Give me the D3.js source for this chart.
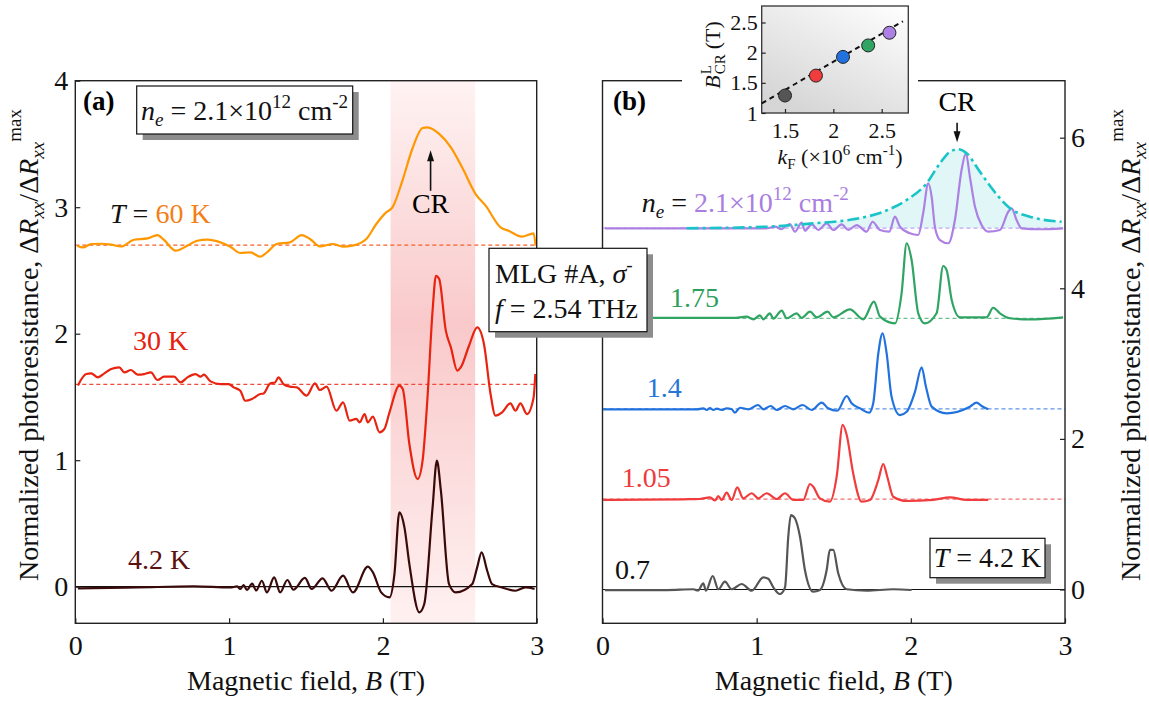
<!DOCTYPE html>
<html>
<head>
<meta charset="utf-8">
<script src="https://cdn.jsdelivr.net/npm/d3@7"></script>
<style>
  body { margin: 0; background: #fff; }
  svg { display: block; font-family: "Liberation Serif", "Times New Roman", serif; }
</style>
</head>
<body>
<script>
// ---- data ----
var bTicks = [0, 1, 2, 3],
    aTicks = [0, 1, 2, 3, 4],
    bRightTicks = [0, 2, 4, 6],
    insetKTicks = [1.5, 2, 2.5],
    insetBTicks = [1, 1.5, 2, 2.5];

// panel (a): offsets of the traces
var aOffsets = [2.7, 1.6, 0];
var crBand = [2.05, 2.6];

var a60K = [[0.013,2.696],[0.05,2.682],[0.103,2.709],[0.168,2.711],[0.233,2.704],[0.297,2.69],[0.381,2.743],[0.47,2.753],[0.535,2.78],[0.575,2.743],[0.653,2.656],[0.728,2.696],[0.793,2.735],[0.858,2.743],[0.944,2.722],[1.008,2.688],[1.073,2.638],[1.138,2.643],[1.202,2.609],[1.246,2.643],[1.31,2.709],[1.396,2.722],[1.472,2.78],[1.526,2.749],[1.59,2.69],[1.674,2.709],[1.739,2.688],[1.803,2.696],[1.892,2.749],[1.957,2.867],[2.021,2.959],[2.062,2.998],[2.127,3.21],[2.191,3.46],[2.258,3.626],[2.29,3.631],[2.366,3.579],[2.442,3.473],[2.515,3.315],[2.603,3.104],[2.668,3.012],[2.765,2.84],[2.818,2.813],[2.904,2.767],[2.98,2.793],[2.993,2.696]];

var a30K = [[0.017,1.591],[0.071,1.681],[0.103,1.686],[0.147,1.655],[0.189,1.686],[0.233,1.721],[0.286,1.734],[0.319,1.694],[0.362,1.713],[0.405,1.676],[0.448,1.681],[0.491,1.694],[0.535,1.634],[0.577,1.66],[0.642,1.66],[0.685,1.615],[0.729,1.655],[0.782,1.681],[0.814,1.66],[0.836,1.676],[0.879,1.623],[0.944,1.602],[0.997,1.602],[1.03,1.576],[1.073,1.549],[1.105,1.47],[1.149,1.484],[1.202,1.523],[1.224,1.528],[1.267,1.607],[1.299,1.615],[1.321,1.655],[1.353,1.602],[1.396,1.581],[1.44,1.576],[1.504,1.51],[1.558,1.607],[1.59,1.555],[1.634,1.581],[1.698,1.391],[1.741,1.457],[1.784,1.312],[1.827,1.326],[1.849,1.299],[1.881,1.365],[1.902,1.299],[1.935,1.344],[1.978,1.22],[2.01,1.247],[2.043,1.378],[2.107,1.589],[2.129,1.563],[2.172,1.128],[2.226,0.851],[2.258,0.996],[2.29,1.496],[2.323,2.182],[2.345,2.458],[2.366,2.432],[2.409,2.024],[2.442,1.892],[2.484,1.708],[2.506,1.733],[2.56,1.905],[2.613,2.05],[2.657,1.919],[2.7,1.523],[2.732,1.352],[2.775,1.378],[2.829,1.449],[2.862,1.391],[2.894,1.449],[2.937,1.365],[2.98,1.496],[2.991,1.681]];

var a4K = [[0.017,-0.013],[0.405,-0.006],[0.771,0.002],[1.008,-0.006],[1.052,0.002],[1.073,-0.018],[1.094,0.013],[1.116,-0.026],[1.15,0.024],[1.176,-0.03],[1.213,0.047],[1.246,-0.045],[1.293,0.074],[1.332,-0.045],[1.379,0.053],[1.418,-0.024],[1.493,0.069],[1.537,-0.018],[1.608,0.066],[1.666,-0.032],[1.741,0.087],[1.805,-0.045],[1.902,0.158],[1.935,0.113],[1.989,-0.045],[2.043,-0.085],[2.075,0.1],[2.107,0.587],[2.14,0.469],[2.172,0.179],[2.237,-0.203],[2.269,-0.137],[2.323,0.627],[2.351,0.996],[2.377,0.759],[2.43,0.021],[2.474,-0.045],[2.581,0.021],[2.613,0.153],[2.642,0.271],[2.678,0.126],[2.71,0.021],[2.775,-0.006],[2.862,-0.032],[2.926,-0.006],[2.986,-0.018]];

// panel (b): densities (10^12 cm^-2) and offsets
var densities = ["0.7", "1.05", "1.4", "1.75", "2.1"];
var bOffsets = [0, 1.2, 2.4, 3.6, 4.8];

var b07 = [[0.016,-0.007],[0.416,-0.007],[0.589,0.003],[0.619,-0.013],[0.654,0.082],[0.671,-0.016],[0.715,0.179],[0.751,0.003],[0.794,0.104],[0.838,0.003],[0.903,0.073],[0.968,-0.016],[1.043,0.162],[1.075,0.143],[1.108,0.029],[1.151,-0.06],[1.184,0.029],[1.205,0.701],[1.222,0.989],[1.248,0.946],[1.281,0.701],[1.313,0.259],[1.367,-0.029],[1.41,-0.007],[1.454,0.259],[1.475,0.525],[1.497,0.525],[1.529,0.215],[1.584,0.003],[1.713,-0.016],[1.886,0.003],[2.005,-0.007]];

var b105 = [[0.005,1.189],[0.524,1.198],[0.632,1.202],[0.697,1.224],[0.73,1.182],[0.751,1.242],[0.773,1.189],[0.805,1.286],[0.838,1.189],[0.874,1.357],[0.913,1.211],[0.968,1.278],[1.01,1.211],[1.065,1.278],[1.13,1.202],[1.184,1.278],[1.237,1.189],[1.302,1.189],[1.346,1.401],[1.367,1.365],[1.41,1.211],[1.475,1.166],[1.519,1.498],[1.558,2.185],[1.584,2.052],[1.626,1.543],[1.681,1.166],[1.735,1.189],[1.789,1.454],[1.821,1.667],[1.847,1.498],[1.886,1.232],[1.973,1.175],[2.145,1.189],[2.254,1.224],[2.362,1.189],[2.502,1.189]];

var b14 = [[0.005,2.393],[0.611,2.393],[0.654,2.406],[0.676,2.384],[0.697,2.41],[0.719,2.384],[0.741,2.401],[0.773,2.384],[0.805,2.406],[0.838,2.393],[0.859,2.348],[0.892,2.414],[0.946,2.393],[1.01,2.45],[1.043,2.393],[1.091,2.437],[1.13,2.384],[1.184,2.437],[1.237,2.393],[1.298,2.45],[1.357,2.384],[1.422,2.481],[1.464,2.406],[1.523,2.374],[1.584,2.57],[1.616,2.473],[1.67,2.406],[1.73,2.348],[1.756,2.473],[1.789,3.137],[1.817,3.402],[1.843,3.137],[1.875,2.56],[1.929,2.317],[1.973,2.361],[2.027,2.627],[2.07,2.951],[2.098,2.693],[2.135,2.428],[2.232,2.34],[2.383,2.428],[2.427,2.481],[2.459,2.437],[2.502,2.393]];

var b175 = [[0.005,3.606],[0.329,3.606],[0.848,3.606],[0.935,3.623],[0.978,3.588],[1.021,3.641],[1.043,3.588],[1.086,3.668],[1.108,3.596],[1.162,3.703],[1.195,3.602],[1.259,3.668],[1.292,3.606],[1.346,3.689],[1.389,3.615],[1.46,3.689],[1.497,3.615],[1.605,3.721],[1.691,3.588],[1.761,3.822],[1.8,3.623],[1.897,3.535],[1.94,3.934],[1.973,4.598],[2.005,4.376],[2.048,3.668],[2.091,3.535],[2.167,3.668],[2.21,4.296],[2.232,4.243],[2.265,3.845],[2.319,3.615],[2.492,3.615],[2.534,3.742],[2.578,3.668],[2.643,3.602],[2.772,3.588],[2.988,3.615]];

var b21 = [[0.016,4.797],[1.065,4.797],[1.119,4.818],[1.162,4.784],[1.184,4.818],[1.216,4.854],[1.248,4.752],[1.292,4.871],[1.313,4.765],[1.357,4.85],[1.4,4.774],[1.454,4.863],[1.497,4.774],[1.551,4.85],[1.594,4.774],[1.649,4.84],[1.713,4.752],[1.752,4.884],[1.8,4.774],[1.86,4.752],[1.897,4.951],[1.929,4.818],[1.994,4.73],[2.048,4.708],[2.08,4.996],[2.113,5.394],[2.135,5.216],[2.156,4.818],[2.189,4.641],[2.243,4.598],[2.286,4.907],[2.329,5.571],[2.357,5.793],[2.383,5.482],[2.416,5.084],[2.459,4.841],[2.502,4.752],[2.578,4.774],[2.632,5.017],[2.654,5.062],[2.686,4.907],[2.719,4.797],[2.837,4.784],[2.988,4.797]];

var crEnvelope = [[0.546,4.797],[1.065,4.818],[1.367,4.863],[1.626,4.916],[1.821,5.017],[1.973,5.173],[2.102,5.394],[2.189,5.66],[2.254,5.814],[2.307,5.846],[2.362,5.793],[2.448,5.548],[2.534,5.305],[2.643,5.062],[2.772,4.951],[2.978,4.884]];

// inset: Fermi wave vector vs CR field
var kF = [1.5, 1.82, 2.1, 2.36, 2.58];
var bCR = [1.29, 1.62, 1.93, 2.12, 2.33];
var fitK = [1.26, 2.72];
var fitB = [1.16, 2.52];

var colA = ["#ff9800", "#e8230f", "#3a0a0a"];
var dashA = ["#f4602a", "#ef4a3a", null];
var colB = ["#555555", "#f03c3c", "#2172de", "#30a463", "#ac80e4"];
var dashB = [null, "#f07070", "#5d95e6", "#6cc08e", "#c3a4ef"];

// ---- layout ----
var W = 1149, H = 702, FONT = 28;
var svg = d3.select("body").append("svg").attr("width", W).attr("height", H);
var defs = svg.append("defs");

var xa = d3.scaleLinear().domain([0, 3]).range([75.3, 536.7]);
var ya = d3.scaleLinear().domain([0, 4]).range([586.7, 80.7]);
var xb = d3.scaleLinear().domain([0, 3]).range([602.5, 1065]);
var yb = d3.scaleLinear().domain([0, 6]).range([589.5, 137.7]);
var plotTop = 80.7, plotBottom = 623.3;

function clip(id, x0, x1) {
    defs.append("clipPath").attr("id", id).append("rect")
        .attr("x", x0).attr("y", plotTop).attr("width", x1 - x0).attr("height", plotBottom - plotTop);
}
clip("clipA", xa(0), xa(3));
clip("clipB", xb(0), xb(3));

// text with sub / superscripts
function rich(sel, x, y, parts, size, anchor) {
    var t = sel.append("text").attr("x", x).attr("y", y)
        .attr("font-size", size).attr("text-anchor", anchor || "start").attr("fill", "#111");
    var off = 0;
    parts.forEach(function(p) {
        var target = p.sup ? -size * (p.hi || 0.42) : p.sub ? size * 0.22 : 0;
        var ts = t.append("tspan").text(p.t).attr("dy", target - off);
        off = target;
        if (p.sup || p.sub) ts.attr("font-size", size * 0.68);
        if (p.i) ts.attr("font-style", "italic");
        if (p.fill) ts.attr("fill", p.fill);
    });
    return t;
}

function box(x, y, w, h) {
    svg.append("rect").attr("x", x + 6).attr("y", y + 6).attr("width", w).attr("height", h).attr("fill", "#8c8c8c");
    svg.append("rect").attr("x", x).attr("y", y).attr("width", w).attr("height", h)
        .attr("fill", "#fff").attr("stroke", "#111").attr("stroke-width", 1.2);
}

function lineGen(xs, ys) {
    return d3.line().x(function(d) { return xs(d[0]); }).y(function(d) { return ys(d[1]); })
        .curve(d3.curveMonotoneX);
}

// ---- panel (a) ----
var grad = defs.append("linearGradient").attr("id", "band").attr("x1", 0).attr("y1", 0).attr("x2", 0).attr("y2", 1);
grad.append("stop").attr("offset", "0%").attr("stop-color", "#fff3f3");
grad.append("stop").attr("offset", "45%").attr("stop-color", "#f9c9ca");
grad.append("stop").attr("offset", "100%").attr("stop-color", "#fff1f1");

var gA = svg.append("g").attr("clip-path", "url(#clipA)");
gA.append("rect").attr("x", xa(crBand[0])).attr("y", plotTop)
    .attr("width", xa(crBand[1]) - xa(crBand[0])).attr("height", plotBottom - plotTop)
    .attr("fill", "url(#band)");

aOffsets.forEach(function(o, i) {
    gA.append("line").attr("x1", xa(0)).attr("x2", xa(3)).attr("y1", ya(o)).attr("y2", ya(o))
        .attr("stroke", dashA[i] || "#111").attr("stroke-width", dashA[i] ? 1.3 : 1.2)
        .attr("stroke-dasharray", dashA[i] ? "4,3" : null);
});

[a60K, a30K, a4K].forEach(function(d, i) {
    gA.append("path").datum(d).attr("d", lineGen(xa, ya))
        .attr("fill", "none").attr("stroke", colA[i]).attr("stroke-width", 2.2)
        .attr("stroke-linejoin", "round");
});

// ---- panel (b) ----
var gB = svg.append("g").attr("clip-path", "url(#clipB)");
gB.append("path").datum(crEnvelope)
    .attr("d", d3.area().x(function(d) { return xb(d[0]); }).y0(yb(bOffsets[4]))
        .y1(function(d) { return yb(d[1]); }).curve(d3.curveMonotoneX))
    .attr("fill", "#dcf5f5").attr("opacity", 0.85);

bOffsets.forEach(function(o, i) {
    gB.append("line").attr("x1", xb(0)).attr("x2", xb(3)).attr("y1", yb(o)).attr("y2", yb(o))
        .attr("stroke", dashB[i] || "#111").attr("stroke-width", 1.2)
        .attr("stroke-dasharray", dashB[i] ? "4,3" : null);
});

[b07, b105, b14, b175, b21].forEach(function(d, i) {
    gB.append("path").datum(d).attr("d", lineGen(xb, yb))
        .attr("fill", "none").attr("stroke", colB[i]).attr("stroke-width", 2.2)
        .attr("stroke-linejoin", "round");
});

gB.append("path").datum(crEnvelope).attr("d", lineGen(xb, yb))
    .attr("fill", "none").attr("stroke", "#19c4c8").attr("stroke-width", 2.6)
    .attr("stroke-dasharray", "12,4,3,4");

// ---- frames and axes ----
[[xa(0), xa(3)], [xb(0), xb(3)]].forEach(function(r) {
    svg.append("rect").attr("x", r[0]).attr("y", plotTop).attr("width", r[1] - r[0]).attr("height", plotBottom - plotTop)
        .attr("fill", "none").attr("stroke", "#222").attr("stroke-width", 1.4);
});

function styleAxis(g, size) {
    g.select(".domain").remove();
    g.selectAll("line").attr("stroke", "#222").attr("stroke-width", 1.2);
    g.selectAll("text").attr("font-size", size).attr("font-family", "Liberation Serif, serif").attr("fill", "#111");
}

styleAxis(svg.append("g").attr("transform", "translate(0," + plotBottom + ")")
    .call(d3.axisBottom(xa).tickValues(bTicks).tickFormat(d3.format("d")).tickSize(-5).tickPadding(12)), FONT);
styleAxis(svg.append("g").attr("transform", "translate(0," + plotBottom + ")")
    .call(d3.axisBottom(xb).tickValues(bTicks).tickFormat(d3.format("d")).tickSize(-5).tickPadding(12)), FONT);
styleAxis(svg.append("g").attr("transform", "translate(" + xa(0) + ",0)")
    .call(d3.axisLeft(ya).tickValues(aTicks).tickFormat(d3.format("d")).tickSize(-5).tickPadding(7)), FONT);
styleAxis(svg.append("g").attr("transform", "translate(" + xb(3) + ",0)")
    .call(d3.axisRight(yb).tickValues(bRightTicks).tickFormat(d3.format("d")).tickSize(-5).tickPadding(6)), FONT);

// axis titles
[xa, xb].forEach(function(s) {
    rich(svg, (s(0) + s(3)) / 2, 690, [{t: "Magnetic field, "}, {t: "B", i: true}, {t: " (T)"}], FONT, "middle");
});
var yTitle = [{t: "Normalized photoresistance, \u0394"}, {t: "R", i: true}, {t: "xx", i: true, sub: true},
              {t: "/\u0394"}, {t: "R", i: true}, {t: "xx", i: true, sub: true}, {t: "max", sup: true, hi: 0.62}];
rich(svg.append("g").attr("transform", "translate(38,345) rotate(-90)"), 0, 0, yTitle, FONT, "middle");
rich(svg.append("g").attr("transform", "translate(1140,345) rotate(-90)"), 0, 0, yTitle, FONT, "middle");

// ---- panel (a) annotations ----
svg.append("text").attr("x", 83).attr("y", 110).attr("font-size", 27).attr("font-weight", "bold").text("(a)");
box(136.7, 86, 216, 48);
var neParts = function(c) {
    return [{t: "n", i: true}, {t: "e", i: true, sub: true}, {t: " = "},
            {t: "2.1\u00d710", fill: c}, {t: "12", sup: true, fill: c}, {t: " cm", fill: c}, {t: "-2", sup: true, fill: c}];
};
rich(svg, 244.5, 120, neParts(null), FONT, "middle");
rich(svg, 110, 223, [{t: "T", i: true}, {t: " =  "}, {t: "60 K", fill: "#f57f17"}], FONT);
rich(svg, 133, 350, [{t: "30 K", fill: "#e8200c"}], FONT);
rich(svg, 128, 569, [{t: "4.2 K", fill: "#5c1010"}], FONT);

function arrow(x, yFrom, yTo) {
    var dir = yTo < yFrom ? 1 : -1;
    svg.append("line").attr("x1", x).attr("x2", x).attr("y1", yFrom).attr("y2", yTo + dir * 8)
        .attr("stroke", "#111").attr("stroke-width", 1.6);
    svg.append("path").attr("d", "M" + x + "," + yTo + "L" + (x - 3.5) + "," + (yTo + dir * 11) +
        "L" + (x + 3.5) + "," + (yTo + dir * 11) + "Z").attr("fill", "#111");
}
arrow(xa(2.31), ya(3.13), ya(3.45));
svg.append("text").attr("x", xa(2.31)).attr("y", 213).attr("text-anchor", "middle").attr("font-size", FONT).text("CR");

// ---- panel (b) annotations ----
svg.append("text").attr("x", 613).attr("y", 110).attr("font-size", 27).attr("font-weight", "bold").text("(b)");
arrow(xb(2.3), yb(6.2), yb(5.94));
svg.append("text").attr("x", xb(2.3)).attr("y", 111).attr("text-anchor", "middle").attr("font-size", FONT).text("CR");
rich(svg, 641.7, 211.7, neParts("#a97ee0"), FONT);
rich(svg, 670, 306.7, [{t: densities[3], fill: "#2e9e5e"}], FONT);
rich(svg, 646.7, 397.3, [{t: densities[2], fill: "#2575d8"}], FONT);
rich(svg, 621.7, 486.7, [{t: densities[1], fill: "#ee3b3b"}], FONT);
rich(svg, 615, 579, [{t: densities[0]}], FONT);

box(930, 538.3, 115, 39.4);
rich(svg, 987.5, 566.7, [{t: "T", i: true}, {t: " = 4.2 K"}], FONT, "middle");

box(489, 248.3, 158, 83.4);
rich(svg, 495, 283, [{t: "MLG #A, "}, {t: "\u03c3", i: true}, {t: "-", sup: true}], FONT);
rich(svg, 495, 318.3, [{t: "f", i: true}, {t: " = 2.54 THz"}], FONT);

// ---- inset ----
svg.append("rect").attr("x", 682).attr("y", 0).attr("width", 236).attr("height", 172).attr("fill", "#fff");
var xi = d3.scaleLinear().domain([1.5, 2.5]).range([785, 881.7]);
var yi = d3.scaleLinear().domain([1, 2.5]).range([113, 22.5]);
var ig = defs.append("linearGradient").attr("id", "inset").attr("x1", 1).attr("y1", 0).attr("x2", 0.3).attr("y2", 1);
ig.append("stop").attr("offset", "0%").attr("stop-color", "#ffffff");
ig.append("stop").attr("offset", "100%").attr("stop-color", "#d6d6d6");
var iL = 761.7, iR = 908.3, iT = 6, iB = 113;
svg.append("rect").attr("x", iL).attr("y", iT).attr("width", iR - iL).attr("height", iB - iT)
    .attr("fill", "url(#inset)").attr("stroke", "#333").attr("stroke-width", 1.3);

svg.append("line").attr("x1", xi(fitK[0])).attr("x2", xi(fitK[1])).attr("y1", yi(fitB[0])).attr("y2", yi(fitB[1]))
    .attr("stroke", "#111").attr("stroke-width", 2).attr("stroke-dasharray", "5,4");
svg.selectAll("circle.pt").data(kF).enter().append("circle")
    .attr("cx", function(d) { return xi(d); })
    .attr("cy", function(d, i) { return yi(bCR[i]); })
    .attr("r", 6.5)
    .attr("fill", function(d, i) { return colB[i]; })
    .attr("stroke", "#222").attr("stroke-width", 1);

var IF = 22;
styleAxis(svg.append("g").attr("transform", "translate(0," + iB + ")")
    .call(d3.axisBottom(xi).tickValues(insetKTicks).tickFormat(function(d) { return d; }).tickSize(-4).tickPadding(9)), IF);
styleAxis(svg.append("g").attr("transform", "translate(" + iL + ",0)")
    .call(d3.axisLeft(yi).tickValues(insetBTicks).tickFormat(function(d) { return d; }).tickSize(-4).tickPadding(4)), IF);

rich(svg, 840, 164, [{t: "k", i: true}, {t: "F", sub: true}, {t: " (\u00d710"}, {t: "6", sup: true},
    {t: " cm"}, {t: "-1", sup: true}, {t: ")"}], IF, "middle");

// B^L_CR (T), rotated, with stacked super/subscript
var yl = svg.append("g").attr("transform", "translate(720,55) rotate(-90)");
var tB = yl.append("text").attr("font-size", IF).attr("font-style", "italic").attr("fill", "#111").text("B");
var wB = tB.node().getComputedTextLength();
yl.append("text").attr("x", wB + 1).attr("y", -9).attr("font-size", 15).attr("fill", "#111").text("L");
var tCR = yl.append("text").attr("x", wB + 1).attr("y", 5).attr("font-size", 15).attr("fill", "#111").text("CR");
var wCR = tCR.node().getComputedTextLength();
var tT = yl.append("text").attr("x", wB + wCR + 6).attr("font-size", IF).attr("fill", "#111").text("(T)");
var total = wB + wCR + 6 + tT.node().getComputedTextLength();
yl.selectAll("text").attr("transform", "translate(" + (-total / 2) + ",0)");
</script>
</body>
</html>
